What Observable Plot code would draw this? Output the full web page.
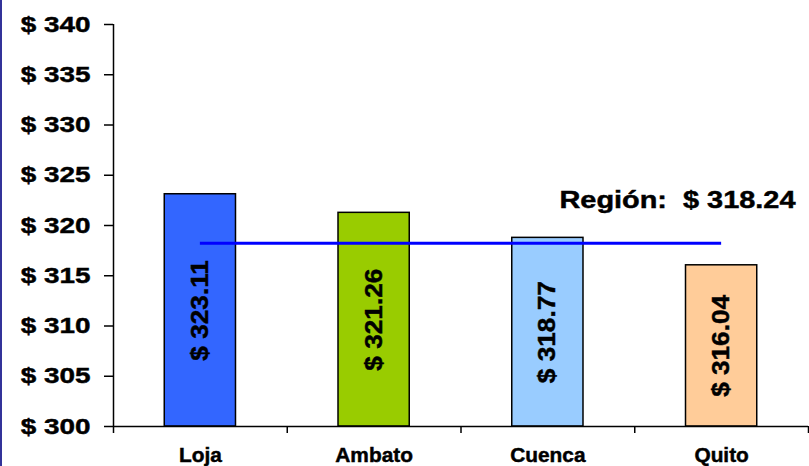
<!DOCTYPE html>
<html><head><meta charset="utf-8">
<script src="https://cdn.jsdelivr.net/npm/d3@7"></script>
<script src="https://cdn.jsdelivr.net/npm/@observablehq/plot@0.6"></script>
<style>
html,body{margin:0;padding:0;background:#fff;}
#wrap{position:relative;width:809px;height:466px;overflow:hidden;}
#wrap svg{display:block;}
#wrap svg text{stroke:#000;stroke-width:0.45px;paint-order:stroke;}
#edge{position:absolute;left:0;top:0;width:2px;height:466px;background:#333399;z-index:2;}
</style></head><body>
<div id="wrap"><div id="edge"></div></div>
<script>
const categories = ["Loja", "Ambato", "Cuenca", "Quito"];
const values = [323.11, 321.26, 318.77, 316.04];
const barColors = ["#3366FF", "#99CC00", "#99CCFF", "#FFCC99"];
const regionLabel = "Región:";
const regionValue = 318.24;
const yTicks = [300, 305, 310, 315, 320, 325, 330, 335, 340];
const yBase = 300;
const yTop = 340;

const data = categories.map((category, index) => ({category, index, value: values[index]}));
const fontFamily = "'Liberation Sans', Arial, sans-serif";

const chart = Plot.plot({
  width: 809, height: 466,
  marginTop: 24, marginBottom: 40, marginLeft: 113, marginRight: 1,
  style: {fontFamily, background: "white", color: "black"},
  x: {domain: [0, categories.length]},
  y: {domain: [yBase, yTop]},
  color: {domain: categories, range: barColors},
  marks: [
    Plot.rectY(data, {x1: d => d.index + 0.295, x2: d => d.index + 0.705, y1: yBase, y2: "value", fill: "category", stroke: "#000", strokeWidth: 1.5}),
    Plot.ruleY([regionValue], {x1: 0.5, x2: categories.length - 0.5, stroke: "#0000FF", strokeWidth: 3}),
    Plot.ruleX([0], {y1: yBase, y2: yTop, stroke: "#000", strokeWidth: 1.5}),
    Plot.ruleY([yBase], {stroke: "#000", strokeWidth: 1.5}),
    Plot.axisY({ticks: yTicks, tickSize: 9, tickPadding: 14, tickFormat: d => "$ " + d, fontSize: 22.5, fontWeight: "bold", strokeWidth: 1.5, label: null}),
    Plot.axisX({ticks: d3.range(categories.length + 1), tickSize: 7, tickFormat: () => "", strokeWidth: 1.5, label: null}),
    Plot.text(data, {x: d => d.index + 0.5, y: d => (yBase + d.value) / 2, text: d => "$ " + d.value.toFixed(2), rotate: -90, fontSize: 23.5, fontWeight: "bold", fill: "#000"}),
    Plot.text(data, {x: d => d.index + 0.5, y: yBase, text: "category", dy: 29, fontSize: 19.5, fontWeight: "bold", fill: "#000"}),
    Plot.text([regionValue], {x: categories.length, y: d => d, text: d => `${regionLabel}\u00a0 $ ${d.toFixed(2)}`, textAnchor: "end", dx: -13, dy: -43, fontSize: 23.5, fontWeight: "bold", fill: "#000"})
  ]
});

// widen glyphs horizontally (reference font renders wide)
const stretch = (el, s) => {
  const t = el.getAttribute("transform") || "";
  el.setAttribute("transform", `${t} scale(${s},1)`);
};
const textGroups = chart.querySelectorAll('g[aria-label="text"]');
const groupScales = [1.115, 1.07, 1.23];
textGroups.forEach((g, k) => g.querySelectorAll("text").forEach(t => stretch(t, groupScales[k] || 1)));
chart.querySelectorAll('g[aria-label="y-axis tick label"] text').forEach(t => stretch(t, 1.24));

document.getElementById("wrap").appendChild(chart);
</script>
</body></html>
